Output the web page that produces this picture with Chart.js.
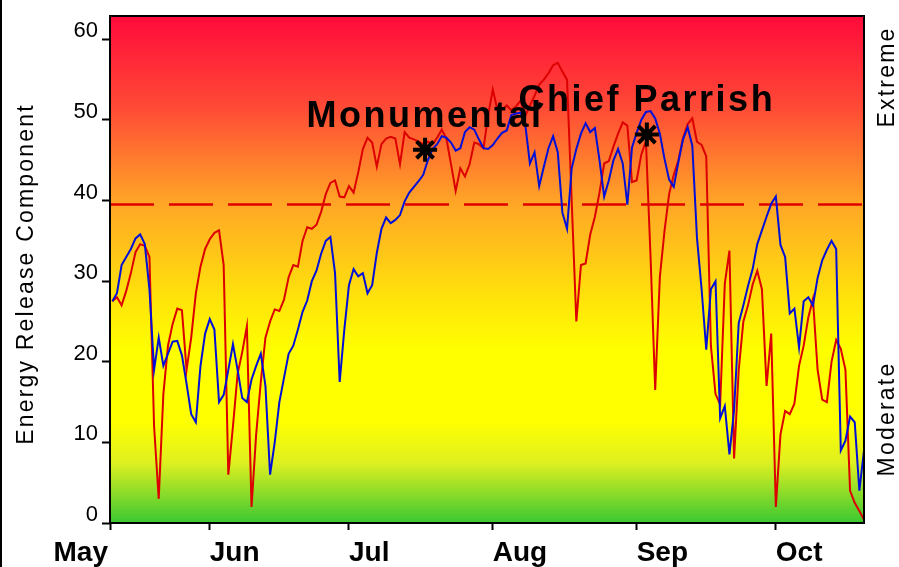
<!DOCTYPE html>
<html>
<head>
<meta charset="utf-8">
<title>Energy Release Component</title>
<script src="https://cdn.jsdelivr.net/npm/chart.js@4.4.1/dist/chart.umd.min.js"></script>
<style>
  html, body { margin: 0; padding: 0; background: #fff; }
  canvas { display: block; }
</style>
</head>
<body>
<canvas id="erc-chart" width="899" height="567"></canvas>
<script>
// days are counted from May 1 (= day 0)
const axisStartDay = 9.5;
const axisEndDay = 172;
const firstDataDay = 10;

const monthLabels = ['May', 'Jun', 'Jul', 'Aug', 'Sep', 'Oct'];
const monthTickDays = [9.5, 31, 61, 92, 123, 153];
const ercTicks = [0, 10, 20, 30, 40, 50, 60];
const ercMax = 62.9;
const thresholdErc = 39.5;

const ercRed = [
  27.5, 28, 27, 28.8, 31, 33.6, 34.6, 34.4, 33, 12,
  3, 16, 22, 24.7, 26.6, 26.4, 19, 23, 28.5, 31.8,
  34, 35.2, 36, 36.3, 32, 6, 12, 18.5, 21.2, 24.4,
  2, 11, 17.5, 23, 25, 26.5, 26.3, 27.7, 30.5, 32,
  31.8, 35, 36.7, 36.5, 37, 38.6, 40.8, 42.2, 42.5, 40.5,
  40.4, 41.8, 41, 43.5, 46.4, 47.8, 47.2, 44.2, 47, 47.7,
  47.9, 47.7, 44.5, 48.5, 47.8, 47.6, 47.3, 47, 47.3, 47,
  47.8, 48.8, 47.7, 44.5, 41.2, 44, 43, 44.5, 47.2, 47,
  46.5, 50.6, 53.8, 51.2, 51.3, 51.8, 51.2, 51.7, 52.4, 50.5,
  51.8, 53, 54.4, 55, 55.8, 56.8, 57.1, 56, 55, 40,
  25, 32, 32.2, 35.8, 38, 41, 44.6, 44.9, 46.7, 48.3,
  49.7, 49.3, 42.3, 42.5, 45.7, 47.4, 33, 16.5, 30.5, 36.2,
  40.8, 43.2, 45, 47.8, 49.5, 50.2, 47.3, 46.9, 45.5, 22,
  16, 14.7, 29.7, 33.8, 8, 19, 25, 27, 29.6, 31.3,
  29, 17, 23.5, 2, 11, 13.9, 13.5, 14.8, 19.5, 22,
  25.5, 27.8, 19, 15.3, 15, 20, 22.7, 21.6, 19, 4,
  2.5, 1.5, 0.4
];

const ercBlue = [
  27.5, 28.5, 32, 33, 34, 35.3, 35.8, 34.6, 29, 19,
  23, 19.5, 21, 22.5, 22.6, 20.8, 17.3, 13.5, 12.5, 19.5,
  23.5, 25.3, 24, 15, 15.9, 19, 22.2, 19, 15.5, 15,
  17.8, 19.5, 21, 17, 6, 10, 15, 18, 21, 22,
  24, 26.2, 27.6, 30, 31.3, 33.4, 35, 35.5, 31, 17.5,
  24, 29.5, 31.5, 30.6, 31, 28.5, 29.5, 33.5, 36.5, 37.9,
  37.2, 37.6, 38.2, 39.9, 41, 41.7, 42.4, 43.2, 45, 46.4,
  47, 48, 47.8, 47.2, 46.2, 46.5, 48.5, 49.1, 48.8, 47.6,
  46.5, 46.4, 46.9, 47.7, 48.4, 48.7, 50.6, 50.8, 50.9, 49.4,
  44.6, 46, 41.8, 44.2, 46.5, 48, 46, 38.5, 36.5, 44,
  46.4, 48.3, 49.6, 48.5, 49, 45, 40.5, 42.5, 45, 46.4,
  44.6, 39.5, 46.6, 48.4, 50, 51, 51.1, 50.2, 48.3, 45.2,
  42.6, 41.7, 44.8, 47.6, 49.1, 46.8, 35.4, 29, 21.5, 29,
  30, 13, 14.5, 8.5, 14, 24.8, 27, 29.4, 31.5, 34.6,
  36.3, 38, 39.6, 40.5, 34.5, 33, 26, 26.6, 21.8, 27.5,
  28, 27, 30.4, 32.6, 33.9, 35, 34, 9, 10.2, 13.2,
  12.5, 4, 9
];

const fireNames = ['Monumental', 'Chief Parrish'];
const fireDays = [77.4, 125.2];
const fireErc = [46.3, 48.2];

const fontFamily = '"Liberation Sans", Arial, Helvetica, sans-serif';

// plot background from dry (top) to moist (bottom)
const bandStops = [
  [0, '#ff0a3a'],
  [0.18, '#ff4a36'],
  [0.37, '#ffa626'],
  [0.56, '#ffe40a'],
  [0.66, '#ffff00'],
  [0.8, '#ffff00'],
  [0.88, '#e0f020'],
  [1, '#3ac832']
];

function toPoints(values) {
  return values.map((v, i) => ({ x: firstDataDay + i, y: v }));
}

function drawRotated(ctx, text, x, y, size, spacing) {
  ctx.save();
  ctx.translate(x, y);
  ctx.rotate(-Math.PI / 2);
  ctx.font = `${size}px ${fontFamily}`;
  ctx.letterSpacing = `${spacing}px`;
  ctx.textAlign = 'center';
  ctx.textBaseline = 'alphabetic';
  ctx.fillStyle = '#000';
  ctx.fillText(text, 0, 0);
  ctx.restore();
}

const backdrop = {
  id: 'backdrop',
  beforeDatasetsDraw(chart) {
    const { ctx, chartArea: a } = chart;
    const g = ctx.createLinearGradient(0, a.top, 0, a.bottom);
    bandStops.forEach(([p, c]) => g.addColorStop(p, c));
    ctx.save();
    ctx.fillStyle = g;
    ctx.fillRect(a.left, a.top, a.right - a.left, a.bottom - a.top);
    ctx.restore();
  },
  afterDatasetsDraw(chart) {
    const { ctx, chartArea: a, scales } = chart;
    ctx.save();
    ctx.strokeStyle = '#000';
    ctx.lineWidth = 2;
    ctx.strokeRect(a.left, a.top, a.right - a.left, a.bottom - a.top);

    // fire labels above their markers
    ctx.font = `bold 36px ${fontFamily}`;
    ctx.letterSpacing = '2.5px';
    ctx.textAlign = 'center';
    ctx.textBaseline = 'alphabetic';
    ctx.fillStyle = '#000';
    fireNames.forEach((name, i) => {
      const px = scales.x.getPixelForValue(fireDays[i]);
      const py = scales.y.getPixelForValue(fireErc[i]);
      ctx.fillText(name, px, py - 23);
    });
    ctx.restore();
  },
  afterDraw(chart) {
    const { ctx, scales } = chart;
    ctx.save();
    ctx.fillStyle = '#000';
    ctx.fillRect(0, 0, 2, chart.height);

    ctx.font = `bold 28px ${fontFamily}`;
    ctx.textBaseline = 'alphabetic';
    monthTickDays.forEach((d, i) => {
      const px = scales.x.getPixelForValue(d);
      ctx.textAlign = i === 0 ? 'right' : 'left';
      ctx.fillText(monthLabels[i], i === 0 ? px - 2 : px, 561);
    });
    ctx.restore();

    drawRotated(ctx, 'Energy Release Component', 33, 274, 23, 2.2);
    drawRotated(ctx, 'Extreme', 894, 77, 23, 2.2);
    drawRotated(ctx, 'Moderate', 894, 419, 23, 2.2);
  }
};

new Chart(document.getElementById('erc-chart'), {
  type: 'line',
  data: {
    datasets: [
      {
        type: 'scatter',
        data: fireDays.map((d, i) => ({ x: d, y: fireErc[i] })),
        pointStyle: 'star',
        pointRadius: 12,
        borderColor: '#000',
        backgroundColor: '#000',
        borderWidth: 4,
        order: 0
      },
      {
        data: toPoints(ercBlue),
        borderColor: '#0010d8',
        borderWidth: 2,
        pointRadius: 0,
        tension: 0,
        order: 1
      },
      {
        data: toPoints(ercRed),
        borderColor: '#dc0000',
        borderWidth: 2,
        pointRadius: 0,
        tension: 0,
        order: 2
      },
      {
        data: [{ x: axisStartDay, y: thresholdErc }, { x: axisEndDay, y: thresholdErc }],
        borderColor: '#e00000',
        borderWidth: 2.5,
        borderDash: [44, 15],
        pointRadius: 0,
        order: 3
      }
    ]
  },
  options: {
    responsive: false,
    animation: false,
    events: [],
    layout: { padding: { top: 10, right: 35, bottom: 0, left: 0 } },
    plugins: {
      legend: { display: false },
      tooltip: { enabled: false }
    },
    scales: {
      x: {
        type: 'linear',
        min: axisStartDay,
        max: axisEndDay,
        afterBuildTicks(scale) {
          scale.ticks = monthTickDays.map((v) => ({ value: v }));
        },
        afterFit(scale) {
          scale.height = 44;
          scale.paddingLeft = 0;
          scale.paddingRight = 0;
        },
        border: { display: false },
        grid: {
          drawOnChartArea: false,
          drawTicks: true,
          tickLength: 7,
          tickWidth: 2,
          tickColor: '#000'
        },
        ticks: { display: false }
      },
      y: {
        min: 0,
        max: ercMax,
        afterBuildTicks(scale) {
          scale.ticks = ercTicks.map((v) => ({ value: v }));
        },
        afterFit(scale) {
          scale.width = 110;
          scale.paddingTop = 0;
          scale.paddingBottom = 0;
        },
        border: { display: false },
        grid: {
          drawOnChartArea: false,
          drawTicks: true,
          tickLength: 8,
          tickWidth: 2,
          tickColor: '#000'
        },
        ticks: {
          color: '#000',
          padding: 4,
          labelOffset: -8,
          font: { family: fontFamily, size: 22 }
        }
      }
    }
  },
  plugins: [backdrop]
});
</script>
</body>
</html>
